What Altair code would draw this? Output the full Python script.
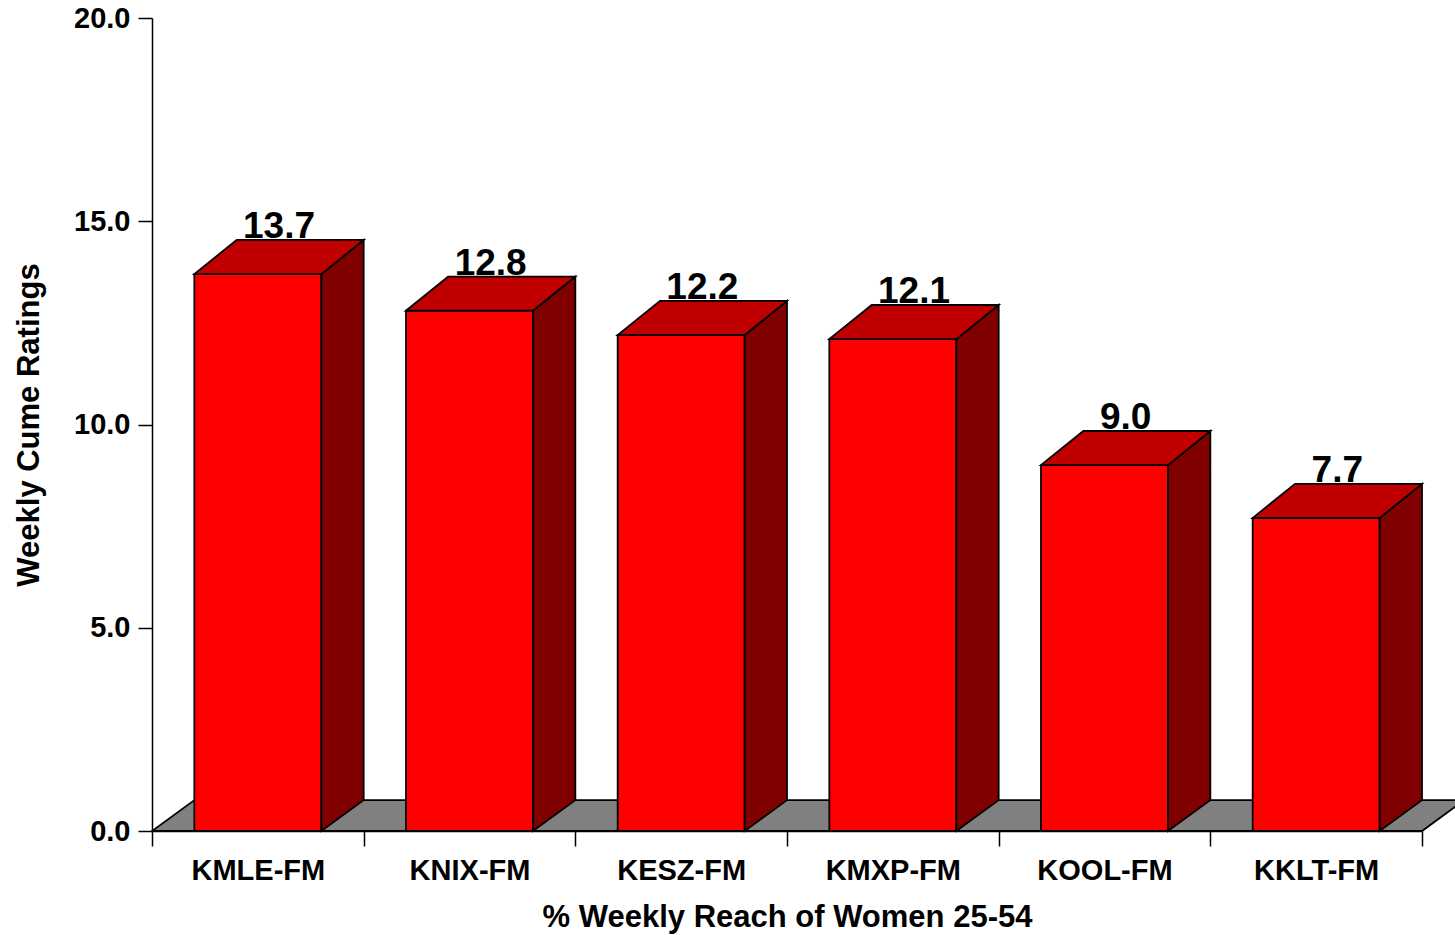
import altair as alt
import pandas as pd

# ---- data ----
stations = ["KMLE-FM", "KNIX-FM", "KESZ-FM", "KMXP-FM", "KOOL-FM", "KKLT-FM"]
ratings = [13.7, 12.8, 12.2, 12.1, 9.0, 7.7]
y_ticks = [0, 5, 10, 15, 20]

# ---- 3D styling (depth in band units / rating units) ----
DX = 0.2
DY_TOP = 0.84
DY_BOT = 0.76
FRONT_L, FRONT_R = 0.2, 0.8
FONT = "Liberation Sans"
n = len(stations)

front = pd.DataFrame({"station": stations, "value": ratings})

side_rows, top_rows = [], []
for i, (s, v) in enumerate(zip(stations, ratings)):
    side_rows += [
        {"station": s, "x": i + FRONT_R, "y": v, "y2": 0},
        {"station": s, "x": i + FRONT_R + DX, "y": v + DY_TOP, "y2": DY_BOT},
    ]
    top_rows += [
        {"station": s, "y": v, "x": i + FRONT_L, "x2": i + FRONT_R},
        {"station": s, "y": v + DY_TOP, "x": i + FRONT_L + DX, "x2": i + FRONT_R + DX},
    ]
side = pd.DataFrame(side_rows)
top = pd.DataFrame(top_rows)
floor = pd.DataFrame([
    {"y": 0, "x": 0, "x2": n},
    {"y": DY_BOT, "x": DX, "x2": n + DX},
])
labels = pd.DataFrame({
    "x": [i + 0.5 + DX / 2 for i in range(n)],
    "y": [v + DY_TOP for v in ratings],
    "text": [f"{v:.1f}" for v in ratings],
})

xq = alt.Scale(domain=[0, n], nice=False, zero=False)
ys = alt.Scale(domain=[0, 20], nice=False, zero=False)
yaxis = alt.Axis(
    values=y_ticks, format=".1f", grid=False,
    labelFont=FONT, labelFontSize=29, labelFontWeight="bold", labelColor="black",
    labelPadding=8, tickSize=14, tickColor="black", tickWidth=1.5,
    domainColor="black", domainWidth=1.5,
    title="Weekly Cume Ratings", titleFont=FONT, titleFontSize=31,
    titleFontWeight="bold", titleColor="black", titlePadding=28,
)

STROKE = dict(stroke="black", strokeWidth=1.8)

floor_layer = alt.Chart(floor).mark_area(orient="horizontal", fill="#808080", **STROKE).encode(
    y=alt.Y("y:Q", scale=ys, axis=yaxis),
    x=alt.X("x:Q", scale=xq, axis=None),
    x2="x2:Q",
)

front_layer = alt.Chart(front).mark_bar(
    width=alt.RelativeBandSize(0.6), fill="#FF0000", **STROKE
).encode(
    x=alt.X(
        "station:N", sort=stations,
        scale=alt.Scale(paddingInner=0, paddingOuter=0),
        axis=alt.Axis(
            tickBand="extent", labelAngle=0, grid=False,
            labelFont=FONT, labelFontSize=29, labelFontWeight="bold", labelColor="black",
            labelPadding=10, tickSize=15, tickColor="black", tickWidth=1.5,
            domainColor="black", domainWidth=1.5,
            title="% Weekly Reach of Women 25-54", titleFont=FONT, titleFontSize=31,
            titleFontWeight="bold", titleColor="black", titlePadding=17,
        ),
    ),
    y=alt.Y("value:Q", scale=ys, axis=yaxis),
    y2=alt.datum(0),
)

side_layer = alt.Chart(side).mark_area(fill="#800000", **STROKE).encode(
    x=alt.X("x:Q", scale=xq, axis=None),
    y=alt.Y("y:Q", scale=ys, axis=yaxis),
    y2="y2:Q",
    detail="station:N",
)

top_layer = alt.Chart(top).mark_area(orient="horizontal", fill="#C00000", **STROKE).encode(
    y=alt.Y("y:Q", scale=ys, axis=yaxis),
    x=alt.X("x:Q", scale=xq, axis=None),
    x2="x2:Q",
    detail="station:N",
)

label_layer = alt.Chart(labels).mark_text(
    baseline="alphabetic", dy=-2, font=FONT, fontSize=37, fontWeight="bold", color="black"
).encode(
    x=alt.X("x:Q", scale=xq, axis=None),
    y=alt.Y("y:Q", scale=ys, axis=yaxis),
    text="text:N",
)

chart = alt.layer(
    floor_layer, front_layer, side_layer, top_layer, label_layer
).resolve_scale(x="independent").properties(
    width=1270, height=813,
    autosize=alt.AutoSizeParams(type="none"),
    padding={"left": 152, "top": 18, "right": 33, "bottom": 104},
    background="white",
).configure_view(stroke=None)

chart.save("out.html", embed_options={"renderer": "svg", "actions": False})
